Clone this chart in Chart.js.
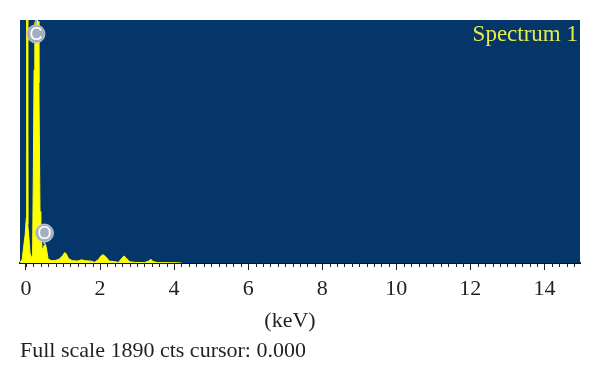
<!DOCTYPE html>
<html lang="en">
<head>
<meta charset="utf-8">
<title>Spectrum 1</title>
<script src="https://cdn.jsdelivr.net/npm/chart.js@4"></script>
<style>
  html, body { margin: 0; padding: 0; background: #fff; }
  canvas { display: block; }
</style>
</head>
<body>
<canvas id="spectrumChart" width="600" height="385"></canvas>

<script>
// spectrum
const energies = [-0.16, -0.1, -0.06, -0.02, 0.01, 0.02, 0.035, 0.05, 0.08, 0.11, 0.15, 0.18, 0.2, 0.22, 0.24, 0.3, 0.33, 0.35, 0.38, 0.4,
  0.42, 0.44, 0.47, 0.5, 0.53, 0.56, 0.6, 0.7, 0.8, 0.9, 1, 1.04, 1.08, 1.15, 1.25, 1.4, 1.5, 1.6, 1.78, 1.85, 1.95, 2.03, 2.08,
  2.15, 2.25, 2.4, 2.5, 2.6, 2.65, 2.72, 2.8, 2.95, 3.2, 3.32, 3.37, 3.43, 3.55, 4, 4.2];
const counts = [0, 30, 130, 220, 350, 1890, 1890, 300, 200, 80, 40, 60, 700, 1500, 1870, 1890, 1880, 1400, 400, 260,
  180, 100, 120, 140, 145, 100, 30, 18, 20, 30, 60, 80, 75, 35, 18, 15, 25, 18, 14, 5, 25, 55, 65,
  50, 15, 10, 5, 40, 55, 35, 10, 4, 3, 15, 30, 12, 3, 2, 0];

const peakLabels = ['C', 'O'];
const peakEnergies = [0.27, 0.5];
const markerCounts = [1782, 233];
const peakTops = [1890, 145];

const xTickValues = [0, 2, 4, 6, 8, 10, 12, 14];
const axisLabel = '(keV)';
const spectrumName = 'Spectrum 1';
const footerText = 'Full scale 1890 cts cursor: 0.000';

const serif = '"Liberation Serif", serif';
const inkColor = '#231f20';

const stems = peakLabels.map((name, i) => ({
  type: 'line',
  data: [{ x: peakEnergies[i], y: markerCounts[i] }, { x: peakEnergies[i], y: peakTops[i] }],
  borderColor: '#a9b2c2',
  borderWidth: 2,
  pointRadius: 0,
  order: 2
}));

// plot background, minor ticks and the loose text
const spectrumDecor = {
  id: 'spectrumDecor',
  beforeDatasetsDraw(chart) {
    const { ctx, chartArea: a } = chart;
    ctx.save();
    ctx.fillStyle = '#05366a';
    ctx.fillRect(a.left, a.top, a.right - a.left, a.bottom - a.top);
    ctx.restore();
  },
  afterDraw(chart) {
    const { ctx, chartArea: a, scales } = chart;
    ctx.save();

    // minor ticks every 0.2 keV
    ctx.strokeStyle = inkColor;
    ctx.lineWidth = 1;
    for (let i = 0; i <= 74; i++) {
      const px = Math.round(scales.x.getPixelForValue(i * 0.2)) + 0.5;
      ctx.beginPath();
      ctx.moveTo(px, a.bottom);
      ctx.lineTo(px, a.bottom + 4);
      ctx.stroke();
    }

    // letters on the peak markers
    ctx.fillStyle = '#ffffff';
    ctx.font = '18px "Liberation Sans", sans-serif';
    ctx.textAlign = 'center';
    ctx.textBaseline = 'middle';
    peakLabels.forEach((name, i) => {
      ctx.fillText(name, scales.x.getPixelForValue(peakEnergies[i]), scales.y.getPixelForValue(markerCounts[i]) + 1);
    });

    ctx.fillStyle = '#e8ea4c';
    ctx.font = '23px ' + serif;
    ctx.textAlign = 'right';
    ctx.textBaseline = 'alphabetic';
    ctx.fillText(spectrumName, 578, 41);

    ctx.fillStyle = inkColor;
    ctx.font = '22px ' + serif;
    ctx.textAlign = 'center';
    ctx.fillText(axisLabel, 290, 327);
    ctx.textAlign = 'left';
    ctx.fillText(footerText, 20, 357);
    ctx.restore();
  }
};

new Chart(document.getElementById('spectrumChart').getContext('2d'), {
  type: 'line',
  plugins: [spectrumDecor],
  data: {
    datasets: [
      {
        label: 'Markers',
        type: 'scatter',
        data: peakEnergies.map((e, i) => ({ x: e, y: markerCounts[i] })),
        pointRadius: 9,
        pointBackgroundColor: '#a6aebd',
        pointBorderColor: '#c3c9d4',
        pointBorderWidth: 1,
        order: 1
      },
      ...stems,
      {
        label: spectrumName,
        data: energies.map((e, i) => ({ x: e, y: counts[i] })),
        borderColor: '#ffff00',
        borderWidth: 1,
        backgroundColor: '#ffff00',
        fill: 'origin',
        pointRadius: 0,
        tension: 0,
        order: 3
      }
    ]
  },
  options: {
    responsive: false,
    animation: false,
    layout: { padding: { left: 20, right: 20, top: 20, bottom: 0 } },
    plugins: { legend: { display: false }, tooltip: { enabled: false } },
    scales: {
      x: {
        type: 'linear',
        min: -0.16,
        max: 14.96,
        z: 1,
        afterFit: (scale) => { scale.height = 122; },
        afterBuildTicks: (scale) => { scale.ticks = xTickValues.map(v => ({ value: v })); },
        border: { color: '#111111', width: 2 },
        grid: { drawOnChartArea: false, drawTicks: true, tickLength: 7, color: inkColor, tickWidth: 1 },
        ticks: {
          autoSkip: false,
          maxRotation: 0,
          color: inkColor,
          padding: 6,
          font: { family: serif, size: 22 }
        }
      },
      y: { display: false, min: 0, max: 1890 }
    }
  }
});
</script>
</body>
</html>
